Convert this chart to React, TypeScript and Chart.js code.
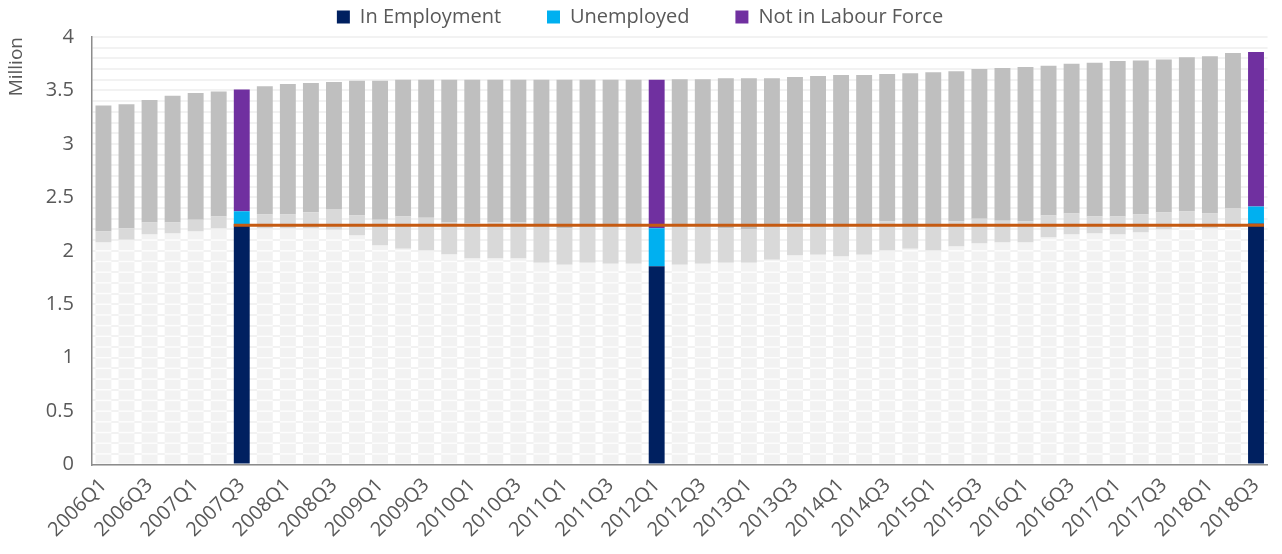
import React, { useEffect, useRef } from 'react';
import { Chart, registerables } from 'chart.js';

Chart.register(...registerables);

const QUARTERS = [
  '2006Q1', '2006Q2', '2006Q3', '2006Q4',
  '2007Q1', '2007Q2', '2007Q3', '2007Q4',
  '2008Q1', '2008Q2', '2008Q3', '2008Q4',
  '2009Q1', '2009Q2', '2009Q3', '2009Q4',
  '2010Q1', '2010Q2', '2010Q3', '2010Q4',
  '2011Q1', '2011Q2', '2011Q3', '2011Q4',
  '2012Q1', '2012Q2', '2012Q3', '2012Q4',
  '2013Q1', '2013Q2', '2013Q3', '2013Q4',
  '2014Q1', '2014Q2', '2014Q3', '2014Q4',
  '2015Q1', '2015Q2', '2015Q3', '2015Q4',
  '2016Q1', '2016Q2', '2016Q3', '2016Q4',
  '2017Q1', '2017Q2', '2017Q3', '2017Q4',
  '2018Q1', '2018Q2', '2018Q3',
];

// Million persons
const IN_EMPLOYMENT = [
  2.077, 2.103, 2.152, 2.162, 2.18, 2.208, 2.25, 2.208, 2.208, 2.208, 2.198, 2.143,
  2.049, 2.02, 2.002, 1.965, 1.927, 1.927, 1.927, 1.889, 1.87, 1.889, 1.88, 1.88,
  1.856, 1.87, 1.88, 1.889, 1.889, 1.917, 1.955, 1.964, 1.946, 1.964, 2.002, 2.02,
  2.002, 2.04, 2.068, 2.077, 2.077, 2.124, 2.152, 2.162, 2.152, 2.171, 2.199, 2.22,
  2.209, 2.225, 2.255,
];

const UNEMPLOYED = [
  0.103, 0.107, 0.113, 0.103, 0.11, 0.112, 0.12, 0.132, 0.132, 0.152, 0.192, 0.187,
  0.241, 0.3, 0.308, 0.3, 0.328, 0.338, 0.338, 0.356, 0.34, 0.356, 0.365, 0.355,
  0.354, 0.375, 0.365, 0.321, 0.311, 0.333, 0.31, 0.286, 0.304, 0.286, 0.271, 0.23,
  0.248, 0.233, 0.232, 0.205, 0.197, 0.206, 0.198, 0.158, 0.168, 0.169, 0.159, 0.147,
  0.141, 0.17, 0.16,
];

const NOT_IN_LABOUR_FORCE = [
  1.18, 1.16, 1.145, 1.185, 1.185, 1.17, 1.14, 1.2, 1.22, 1.21, 1.19, 1.26,
  1.3, 1.28, 1.29, 1.335, 1.345, 1.335, 1.335, 1.355, 1.39, 1.355, 1.355, 1.365,
  1.39, 1.36, 1.36, 1.405, 1.415, 1.365, 1.36, 1.385, 1.395, 1.395, 1.382, 1.41,
  1.42, 1.407, 1.4, 1.428, 1.446, 1.4, 1.4, 1.44, 1.455, 1.44, 1.432, 1.443,
  1.47, 1.455, 1.445,
];

const HIGHLIGHTED = ['2007Q3', '2012Q1', '2018Q3'];
const REFERENCE_LEVEL = 2.24;
const REFERENCE_START = '2007Q3';

const SERIES_NAMES = ['In Employment', 'Unemployed', 'Not in Labour Force'];
const SERIES_COLORS = ['#002060', '#00b0f0', '#7030a0'];
const MUTED_COLORS = ['#f2f2f2', '#d9d9d9', '#bfbfbf'];
const TEXT_COLOR = '#595959';
const FONT = "'Open Sans', 'Noto Sans', sans-serif";

const LEGEND_GAP = 46;

const overlayPlugin = {
  id: 'overlay',
  afterDatasetsDraw(chart: any) {
    const ctx = chart.ctx;
    const yScale = chart.scales.y;
    const meta = chart.getDatasetMeta(0);
    ctx.save();
    ctx.strokeStyle = 'rgba(255,255,255,0.8)';
    ctx.lineWidth = 1.5;
    meta.data.forEach((bar: any, i: number) => {
      if (HIGHLIGHTED.includes(QUARTERS[i])) return;
      const p = bar.getProps(['x', 'y', 'base', 'width'], true);
      for (let k = 1; k < 40; k++) {
        const py = yScale.getPixelForValue(k / 10);
        if (py > p.y + 1 && py < p.base - 1) {
          ctx.beginPath();
          ctx.moveTo(p.x - p.width / 2, py);
          ctx.lineTo(p.x + p.width / 2, py);
          ctx.stroke();
        }
      }
    });
    const startIdx = QUARTERS.indexOf(REFERENCE_START);
    const first = meta.data[startIdx].getProps(['x', 'width'], true);
    const last = meta.data[meta.data.length - 1].getProps(['x', 'width'], true);
    const ry = yScale.getPixelForValue(REFERENCE_LEVEL);
    ctx.strokeStyle = '#c55a11';
    ctx.lineWidth = 3;
    ctx.beginPath();
    ctx.moveTo(first.x - first.width / 2, ry);
    ctx.lineTo(last.x + last.width / 2, ry);
    ctx.stroke();
    ctx.restore();
  },
};

export default function App() {
  const canvasRef = useRef<HTMLCanvasElement | null>(null);

  useEffect(() => {
    document.body.style.margin = '0';
    const canvas = canvasRef.current;
    if (!canvas) return;
    const colorsFor = (idx: number) =>
      QUARTERS.map((q) => (HIGHLIGHTED.includes(q) ? SERIES_COLORS[idx] : MUTED_COLORS[idx]));
    const values = [IN_EMPLOYMENT, UNEMPLOYED, NOT_IN_LABOUR_FORCE];
    const topPad = 7 - LEGEND_GAP;

    const chart = new Chart(canvas, {
      type: 'bar',
      data: {
        labels: QUARTERS,
        datasets: values.map((v, idx) => ({
          label: SERIES_NAMES[idx],
          data: v,
          backgroundColor: colorsFor(idx),
          borderWidth: 0,
          barPercentage: 0.69,
          categoryPercentage: 1,
        })),
      },
      options: {
        animation: false,
        responsive: false,
        maintainAspectRatio: false,
        layout: { padding: { left: 0, right: 2, top: topPad, bottom: 3 } },
        plugins: {
          tooltip: { enabled: false },
          legend: {
            position: 'top',
            align: 'center',
            labels: {
              boxWidth: 13,
              boxHeight: 13,
              padding: LEGEND_GAP,
              color: TEXT_COLOR,
              font: { family: FONT, size: 20 },
              generateLabels: (c: any) =>
                c.data.datasets.map((ds: any, i: number) => ({
                  text: ds.label,
                  fillStyle: SERIES_COLORS[i],
                  strokeStyle: SERIES_COLORS[i],
                  lineWidth: 0,
                  hidden: false,
                  datasetIndex: i,
                  fontColor: TEXT_COLOR,
                })),
            },
          },
        },
        scales: {
          x: {
            stacked: true,
            grid: { display: false, drawTicks: false },
            border: { display: true, color: '#8c8c8c', width: 1.5 },
            ticks: {
              autoSkip: false,
              maxRotation: 45,
              minRotation: 45,
              padding: 9,
              color: TEXT_COLOR,
              font: { family: FONT, size: 20 },
              callback: (_v: any, i: number) => (i % 2 === 0 ? QUARTERS[i] : ''),
            },
          },
          y: {
            stacked: true,
            min: 0,
            max: 4,
            grid: { color: '#f2f2f2', lineWidth: 2, drawTicks: false },
            border: { display: true, color: '#8c8c8c', width: 1.5 },
            title: {
              display: true,
              text: 'Million',
              align: 'end',
              color: TEXT_COLOR,
              font: { family: FONT, size: 19 },
              padding: { top: 5, bottom: 0 },
            },
            ticks: {
              stepSize: 0.1,
              autoSkip: false,
              padding: 18,
              color: TEXT_COLOR,
              font: { family: FONT, size: 20 },
              callback: (v: any) => {
                const n = Number(v);
                if (Math.abs(n * 2 - Math.round(n * 2)) > 1e-6) return '';
                return String(Math.round(n * 2) / 2);
              },
            },
          },
        },
      },
      plugins: [overlayPlugin],
    });
    return () => chart.destroy();
  }, []);

  return (
    <div style={{ width: 1282, height: 554 }}>
      <canvas ref={canvasRef} width={1282} height={554} style={{ display: 'block' }} />
    </div>
  );
}
